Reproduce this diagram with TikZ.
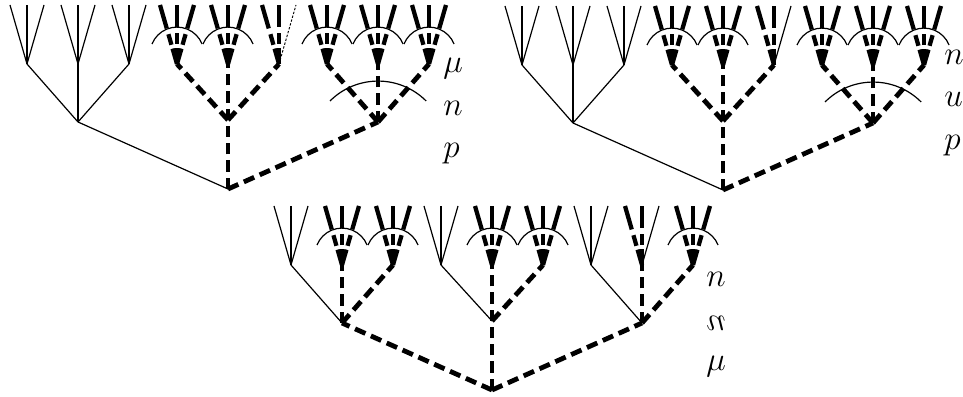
\documentclass[tikz,border=0pt]{standalone}
\usepackage{graphicx}
\tikzset{
  thinedge/.style={line width=0.9pt},
  dotleaf/.style={line width=0.7pt, dash pattern=on 1.8pt off 1.2pt},
  plainleaf/.style={line width=0.9pt},
  thickedge/.style={line width=3.6pt, dash pattern=on 8.5pt off 4.5pt},
  leafedge/.style={line width=3.2pt, dash pattern=on 12pt off 3pt on 8.25pt off 4.5pt on 20pt},
  hatarc/.style={line width=0.9pt},
  lbl/.style={anchor=base west, inner sep=0pt, font=\Huge}
}
\begin{document}
\begin{tikzpicture}[x=0.75pt, y=0.75pt, line join=round]
	\useasboundingbox (0,0) rectangle (963,396);
	% tree points: root, level 1, level 2, leaves
	\foreach \t/\rx/\ry in {tl/228/207, tr/723/206, bt/492/6}{
		\coordinate (\t) at (\rx,\ry);
		\foreach \i/\dx/\dy in {1/-150/67, 2/0/69, 3/150/67}{
			\coordinate (\t-\i) at (\rx+\dx,\ry+\dy);
			\foreach \j/\ex in {1/-51, 2/0, 3/51}{
				\coordinate (\t-\i\j) at (\rx+\dx+\ex,\ry+125);
				\foreach \k/\fx in {1/-17, 2/0, 3/17}
					\coordinate (\t-\i\j-\k) at (\rx+\dx+\ex+\fx,\ry+184);
			}
		}
	}
	% root to level 1
	\draw[thinedge] (tl) -- (tl-1) (tr) -- (tr-1);
	\foreach \a/\b in {tl/tl-2, tl/tl-3, tr/tr-2, tr/tr-3, bt/bt-1, bt/bt-2, bt/bt-3}
		\draw[thickedge] (\a) -- (\b);
	% level 1 to level 2
	\foreach \a/\b in {tl-1/tl-11, tl-1/tl-12, tl-1/tl-13,
		tr-1/tr-11, tr-1/tr-12, tr-1/tr-13,
		bt-1/bt-11, bt-2/bt-21, bt-3/bt-31}
		\draw[thinedge] (\a) -- (\b);
	\foreach \a/\b in {tl-2/tl-21, tl-2/tl-22, tl-2/tl-23, tl-3/tl-31, tl-3/tl-32, tl-3/tl-33,
		tr-2/tr-21, tr-2/tr-22, tr-2/tr-23, tr-3/tr-31, tr-3/tr-32, tr-3/tr-33,
		bt-1/bt-12, bt-1/bt-13, bt-2/bt-22, bt-2/bt-23, bt-3/bt-32, bt-3/bt-33}
		\draw[thickedge] (\a) -- (\b);
	% thin fans
	\foreach \n in {tl-11, tl-12, tl-13, tr-11, tr-12, tr-13, bt-11, bt-21, bt-31}
		\foreach \k in {1,2,3}
			\draw[thinedge] (\n) -- (\n-\k);
	% thick fans with a small arc
	\foreach \n in {tl-21, tl-22, tl-31, tl-32, tl-33, tr-21, tr-22, tr-31, tr-32, tr-33,
		bt-12, bt-13, bt-22, bt-23, bt-33}{
		\foreach \k in {1,2,3}
			\draw[leafedge] (\n) -- (\n-\k);
		\draw[hatarc] (\n) ++(-25,20) arc[start angle=158, end angle=22, radius=27];
	}
	% thick fans, right leaf thin
	\foreach \n/\s in {tl-23/dotleaf, tr-23/plainleaf, bt-32/plainleaf}{
		\draw[leafedge] (\n) -- (\n-1);
		\draw[leafedge] (\n) -- (\n-2);
		\draw[\s] (\n) -- (\n-3);
	}
	% big arcs
	\draw[hatarc] (tl-3) ++(-48,21) arc[start angle=135, end angle=45, radius=68];
	\draw[hatarc] (tr-3) ++(-48,21) arc[start angle=135, end angle=45, radius=68];
	% labels
	\node[lbl] (tlmu) at (443,323) {$\mu$};
	\node[lbl] (tln) at (443,280) {$n$};
	\node[lbl] (tlp) at (443,238) {$p$};
	\node[lbl] (trn) at (944,331) {$n$};
	\node[lbl] (tru) at (944,289) {$u$};
	\node[lbl] (trp) at (944,246) {$p$};
	\node[lbl] (btn) at (706,109) {$n$};
	\node[lbl] (btr) at (706,65) {\reflectbox{$n$}};
	\node[lbl] (btmu) at (706,26) {$\mu$};
\end{tikzpicture}
\end{document}
